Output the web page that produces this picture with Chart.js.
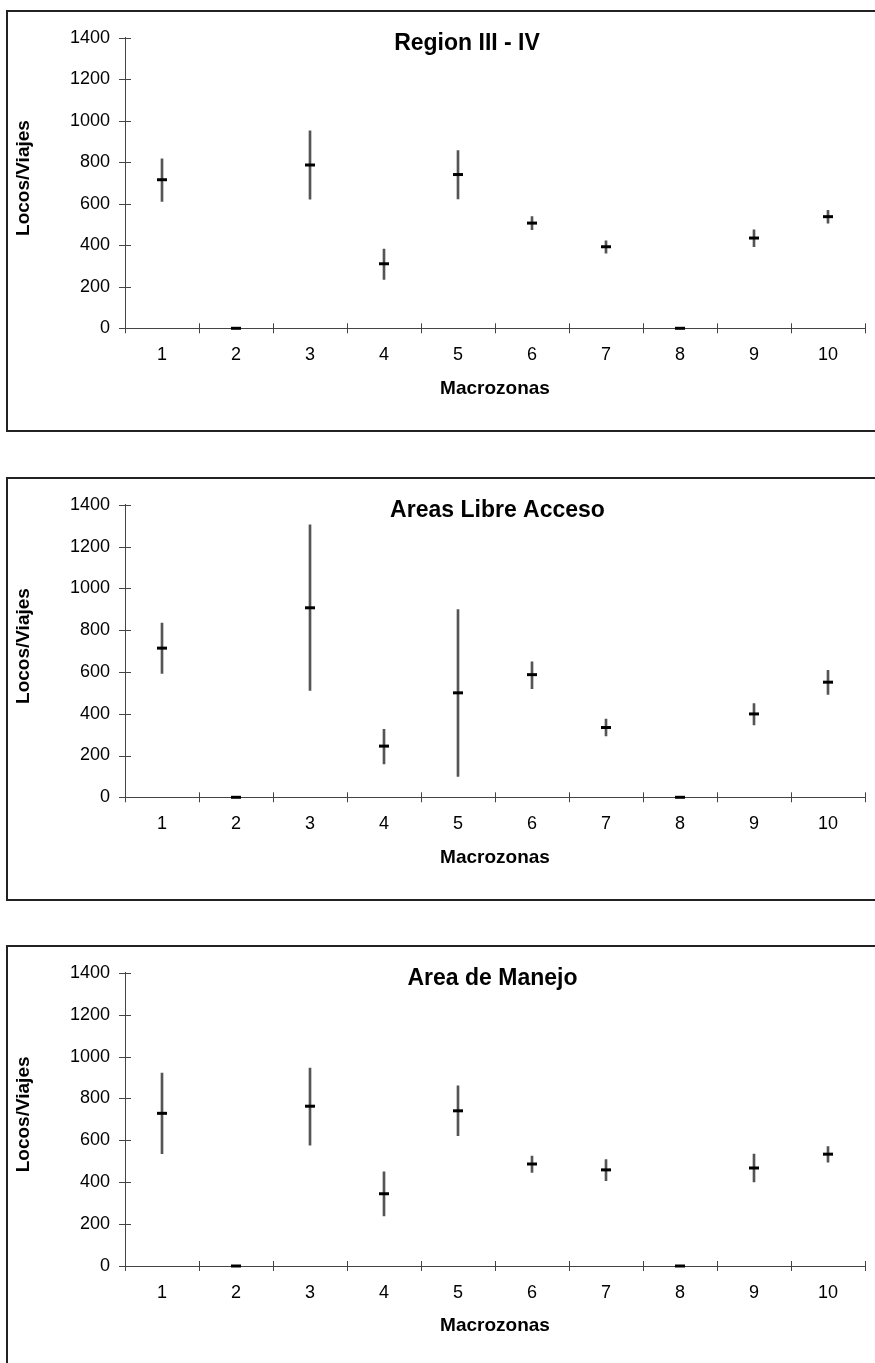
<!DOCTYPE html>
<html>
<head>
<meta charset="utf-8">
<script src="https://cdn.jsdelivr.net/npm/chart.js@4.4.1/dist/chart.umd.min.js"></script>
<style>
  html, body { margin: 0; padding: 0; background: #fff; overflow: hidden; width: 875px; height: 1363px; }
  .panel { position: absolute; left: 6px; width: 900px; border: 2px solid #222; background: #fff; }
  .panel canvas { display: block; }
</style>
</head>
<body>
<div class="panel" id="p1" style="top:10px;height:418px"><canvas id="c1"></canvas></div>
<div class="panel" id="p2" style="top:477px;height:420px"><canvas id="c2"></canvas></div>
<div class="panel" id="p3" style="top:945px;height:420px"><canvas id="c3"></canvas></div>
<script>
// categories
const macrozonas = ['1', '2', '3', '4', '5', '6', '7', '8', '9', '10'];
const yTicks = [0, 200, 400, 600, 800, 1000, 1200, 1400];
const xTitle = 'Macrozonas';
const yTitle = 'Locos/Viajes';

// Region III - IV
const regionTitle = 'Region III - IV';
const regionMean = [716, 0, 787, 311, 741, 507, 393, 0, 435, 538];
const regionLow  = [611, null, 622, 235, 623, 475, 362, null, 393, 507];
const regionHigh = [817, null, 952, 382, 856, 538, 421, null, 475, 568];

// Areas Libre Acceso
const libreTitle = 'Areas Libre Acceso';
const libreMean = [714, 0, 907, 245, 500, 587, 334, 0, 399, 551];
const libreLow  = [593, null, 511, 160, 100, 520, 294, null, 346, 493];
const libreHigh = [834, null, 1304, 325, 899, 648, 374, null, 448, 608];

// Area de Manejo
const manejoTitle = 'Area de Manejo';
const manejoMean = [729, 0, 763, 345, 741, 487, 459, 0, 468, 534];
const manejoLow  = [536, null, 577, 239, 622, 447, 408, null, 401, 496];
const manejoHigh = [921, null, 945, 450, 860, 525, 508, null, 534, 570];

const FONT = '"Liberation Sans", Arial, Helvetica, sans-serif';
const AXIS_COLOR = '#444';

// chart title sits inside the plot area, y title is drawn a bit above centre
const panelTexts = {
    id: 'panelTexts',
    afterDraw(chart, args, opts) {
        const ctx = chart.ctx;
        const area = chart.chartArea;
        ctx.save();
        ctx.fillStyle = '#000';
        ctx.font = 'bold 23px ' + FONT;
        ctx.textAlign = 'center';
        ctx.textBaseline = 'alphabetic';
        ctx.fillText(opts.text, opts.x, area.top + opts.dy);

        ctx.font = 'bold 19px ' + FONT;
        ctx.textBaseline = 'middle';
        ctx.translate(opts.yTitleX, (area.top + area.bottom) / 2 - 5);
        ctx.rotate(-Math.PI / 2);
        ctx.fillText(yTitle, 0, 0);
        ctx.restore();
    }
};

// tick marks that cross the axis lines
const crossTicks = {
    id: 'crossTicks',
    afterDraw(chart) {
        const ctx = chart.ctx;
        const xs = chart.scales.x;
        const ys = chart.scales.y;
        const left = chart.chartArea.left;
        const bottom = chart.chartArea.bottom;
        ctx.save();
        ctx.strokeStyle = AXIS_COLOR;
        ctx.lineWidth = 1;
        ctx.beginPath();
        ys.ticks.forEach(t => {
            const y = Math.round(ys.getPixelForValue(t.value)) + 0.5;
            ctx.moveTo(left - 6, y);
            ctx.lineTo(left + 6, y);
        });
        for (let i = 0; i <= macrozonas.length; i++) {
            const x = Math.round(xs.getPixelForValue(i - 0.5)) + 0.5;
            ctx.moveTo(x, bottom - 5);
            ctx.lineTo(x, bottom + 5);
        }
        ctx.stroke();
        ctx.restore();
    }
};

function makePanel(canvasId, title, mean, low, high, layout) {
    const ranges = low.map((l, i) => (l === null ? null : [l, high[i]]));
    const xHeight = 79.4;

    return new Chart(document.getElementById(canvasId), {
        type: 'bar',
        data: {
            labels: macrozonas,
            datasets: [
                {
                    type: 'line',
                    data: mean,
                    showLine: false,
                    pointStyle: 'line',
                    pointRadius: 5,
                    pointHoverRadius: 5,
                    pointBorderWidth: 3,
                    pointBorderColor: '#000',
                    borderColor: '#000',
                    clip: false,
                    order: 0
                },
                {
                    type: 'bar',
                    data: ranges,
                    backgroundColor: '#555',
                    barThickness: 2,
                    borderWidth: 0,
                    order: 1
                }
            ]
        },
        options: {
            responsive: true,
            maintainAspectRatio: false,
            animation: false,
            events: [],
            layout: {
                padding: {
                    left: 0,
                    top: layout.chartTop,
                    right: 43,
                    bottom: layout.height - layout.chartBottom - xHeight
                }
            },
            plugins: {
                legend: { display: false },
                tooltip: { enabled: false },
                panelTexts: { text: title, x: layout.titleX, dy: 12.5, yTitleX: 15.7 }
            },
            scales: {
                x: {
                    type: 'category',
                    offset: true,
                    grid: { display: false, drawTicks: false, offset: true },
                    border: { display: true, color: AXIS_COLOR, width: 1 },
                    ticks: {
                        color: '#000',
                        font: { family: FONT, size: 18 },
                        padding: 16,
                        maxRotation: 0,
                        autoSkip: false
                    },
                    title: {
                        display: true,
                        text: xTitle,
                        color: '#000',
                        font: { family: FONT, size: 19, weight: 'bold' },
                        padding: { top: 0, bottom: 8 }
                    },
                    afterFit(scale) { scale.height = xHeight; }
                },
                y: {
                    min: 0,
                    max: 1400,
                    grid: { display: false, drawTicks: false },
                    border: { display: true, color: AXIS_COLOR, width: 1 },
                    afterBuildTicks(scale) { scale.ticks = yTicks.map(v => ({ value: v })); },
                    ticks: {
                        color: '#000',
                        font: { family: FONT, size: 18 },
                        padding: 15,
                        callback: v => String(v)
                    },
                    afterFit(scale) { scale.width = 117; }
                }
            }
        },
        plugins: [panelTexts, crossTicks]
    });
}

makePanel('c1', regionTitle, regionMean, regionLow, regionHigh,
    { height: 418, chartTop: 14.7, chartBottom: 316.3, titleX: 459 });
makePanel('c2', libreTitle, libreMean, libreLow, libreHigh,
    { height: 420, chartTop: 15.3, chartBottom: 318.3, titleX: 489.5 });
makePanel('c3', manejoTitle, manejoMean, manejoLow, manejoHigh,
    { height: 420, chartTop: 15, chartBottom: 319, titleX: 484.5 });
</script>
</body>
</html>
